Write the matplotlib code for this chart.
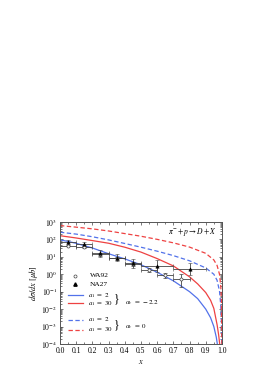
import matplotlib
matplotlib.use("Agg")
import matplotlib.pyplot as plt
from matplotlib.ticker import MultipleLocator, LogLocator, NullFormatter, FixedLocator
from matplotlib.lines import Line2D

plt.rcParams['font.family'] = ['Liberation Serif', 'DejaVu Serif']
plt.rcParams['mathtext.fontset'] = 'stix'

# ---- data ----
wa92_x = [0.05, 0.15, 0.25, 0.35, 0.45, 0.55, 0.65, 0.75]
wa92_y = [44, 35, 14, 8.0, 3.9, 1.8, 0.9, 0.52]
wa92_xerr = [0.05, 0.05, 0.05, 0.05, 0.05, 0.05, 0.05, 0.05]
wa92_ylo = [5, 5, 2.5, 1.5, 1.0, 0.5, 0.3, 0.33]
wa92_yhi = [5, 5, 2.5, 1.5, 1.0, 0.5, 0.3, 0.55]

na27_x = [0.05, 0.15, 0.25, 0.35, 0.45, 0.6, 0.8]
na27_y = [70, 53, 16, 9.0, 4.4, 3.0, 2.0]
na27_xerr = [0.05, 0.05, 0.05, 0.05, 0.05, 0.1, 0.1]
na27_ylo = [15, 12, 6, 3.5, 2.0, 1.6, 1.1]
na27_yhi = [18, 15, 9, 5.5, 3.0, 3.5, 2.3]

curve_x_bs = [0, 0.05, 0.1, 0.2, 0.3, 0.4, 0.5, 0.6, 0.7, 0.8, 0.85, 0.9, 0.93, 0.95, 0.965, 0.975]
curve_y_bs = [93, 76, 59, 32, 15, 7.6, 3.5, 1.3, 0.42, 0.1, 0.04, 0.01, 0.0032, 0.001, 2.5e-4, 6.3e-5]

curve_x_rs = [0, 0.1, 0.2, 0.3, 0.4, 0.5, 0.6, 0.7, 0.8, 0.85, 0.9, 0.93, 0.95, 0.97, 0.98, 0.99]
curve_y_rs = [162, 120, 85, 60, 35.5, 18.6, 7.9, 3.0, 0.71, 0.28, 0.089, 0.032, 0.011, 0.0013, 3.2e-4, 5e-5]

curve_x_bd = [0, 0.1, 0.2, 0.3, 0.4, 0.5, 0.6, 0.7, 0.8, 0.9, 0.95, 0.97, 0.985, 0.993, 0.997, 0.999]
curve_y_bd = [257, 200, 141, 93, 58, 35.5, 21, 11.7, 5.9, 2.3, 1.0, 0.45, 0.11, 0.016, 0.0016, 1e-4]

curve_x_rd = [0, 0.1, 0.2, 0.3, 0.4, 0.5, 0.6, 0.7, 0.8, 0.9, 0.95, 0.97, 0.985, 0.993, 0.997, 0.9995]
curve_y_rd = [617, 500, 400, 302, 214, 151, 100, 63, 36, 15.8, 6.6, 3.2, 1.0, 0.2, 0.025, 1e-4]

xticks = [0.0, 0.1, 0.2, 0.3, 0.4, 0.5, 0.6, 0.7, 0.8, 0.9, 1.0]
yticks = [1e-4, 1e-3, 1e-2, 1e-1, 1e0, 1e1, 1e2, 1e3]
ytick_labels = [r'$10^{-4}$', r'$10^{-3}$', r'$10^{-2}$', r'$10^{-1}$', r'$10^{0}$', r'$10^{1}$', r'$10^{2}$', r'$10^{3}$']

BLUE = '#5272ea'
RED = '#ee4242'
ECOL = '#444444'

fig = plt.figure(figsize=(2.75, 3.9), dpi=100)
ax = fig.add_axes([0.218, 0.118, 0.589, 0.313])

lw = 0.9
ax.plot(curve_x_bs, curve_y_bs, color=BLUE, lw=lw)
ax.plot(curve_x_rs, curve_y_rs, color=RED, lw=lw)
ax.plot(curve_x_bd, curve_y_bd, color=BLUE, lw=lw, ls=(0, (3.5, 2)))
ax.plot(curve_x_rd, curve_y_rd, color=RED, lw=lw, ls=(0, (3.5, 2)))

ax.errorbar(wa92_x, wa92_y, xerr=wa92_xerr, yerr=[wa92_ylo, wa92_yhi], fmt='o', ms=2.2,
            mfc='white', mec=ECOL, mew=0.5, ecolor=ECOL, elinewidth=0.6, capsize=1.2, capthick=0.6)
ax.errorbar(na27_x, na27_y, xerr=na27_xerr, yerr=[na27_ylo, na27_yhi], fmt='^', ms=2.4,
            mfc='black', mec='black', mew=0.4, ecolor=ECOL, elinewidth=0.6, capsize=1.2, capthick=0.6)

ax.set_yscale('log')
ax.set_xlim(0, 1.0)
ax.set_ylim(1e-4, 1e3)
ax.xaxis.set_major_locator(FixedLocator(xticks))
ax.set_xticklabels([f'{v:.1f}' for v in xticks])
ax.xaxis.set_minor_locator(MultipleLocator(0.05))
ax.yaxis.set_major_locator(FixedLocator(yticks))
ax.set_yticklabels(ytick_labels)
ax.yaxis.set_minor_locator(LogLocator(base=10, subs=range(2, 10), numticks=20))
ax.yaxis.set_minor_formatter(NullFormatter())
ax.tick_params(which='both', direction='in', top=True, right=True, labelsize=5.5, pad=2, width=0.5, color='#444444')
ax.tick_params(which='major', length=2.5)
ax.tick_params(which='minor', length=1.3)
for s in ax.spines.values():
    s.set_linewidth(0.7)
    s.set_color('#555555')

ax.set_xlabel(r'$x$', fontsize=6, labelpad=2)
ax.set_ylabel(r'$d\sigma/dx\ [\mu b]$', fontsize=6, labelpad=1)

ax.text(0.82, 0.92, r'$\pi^{-} + p \rightarrow D + X$', transform=ax.transAxes, fontsize=5.5,
        ha='center', va='center')

# legend (manual)
fs = 5.0
ax.plot([0.093], [0.56], 'o', ms=2.2, mfc='white', mec=ECOL, mew=0.5, transform=ax.transAxes)
ax.text(0.185, 0.56, 'WA92', transform=ax.transAxes, fontsize=fs + 0.3, va='center')
ax.plot([0.093], [0.489], '^', ms=2.4, mfc='black', mec='black', transform=ax.transAxes)
ax.text(0.185, 0.489, 'NA27', transform=ax.transAxes, fontsize=fs + 0.3, va='center')

rows = [(0.40, BLUE, '-', r'$a_1\ =\ 2$'), (0.334, RED, '-', r'$a_1\ =\ 30$'),
        (0.197, BLUE, (0, (3.5, 2)), r'$a_1\ =\ 2$'), (0.115, RED, (0, (3.5, 2)), r'$a_1\ =\ 30$')]
for yy, c, ls, lab in rows:
    ax.add_line(Line2D([0.051, 0.144], [yy, yy], color=c, ls=ls, lw=lw, transform=ax.transAxes))
    ax.text(0.175, yy, lab, transform=ax.transAxes, fontsize=fs, va='center')

ax.text(0.35, 0.367, '}', transform=ax.transAxes, fontsize=8.5, va='center', ha='center')
ax.text(0.40, 0.34, r'$\alpha_v\ =\ -2.2$', transform=ax.transAxes, fontsize=fs, va='center')
ax.text(0.35, 0.156, '}', transform=ax.transAxes, fontsize=8.5, va='center', ha='center')
ax.text(0.40, 0.142, r'$\alpha_v\ =\ 0$', transform=ax.transAxes, fontsize=fs, va='center')

fig.savefig('out.png', dpi=100)
